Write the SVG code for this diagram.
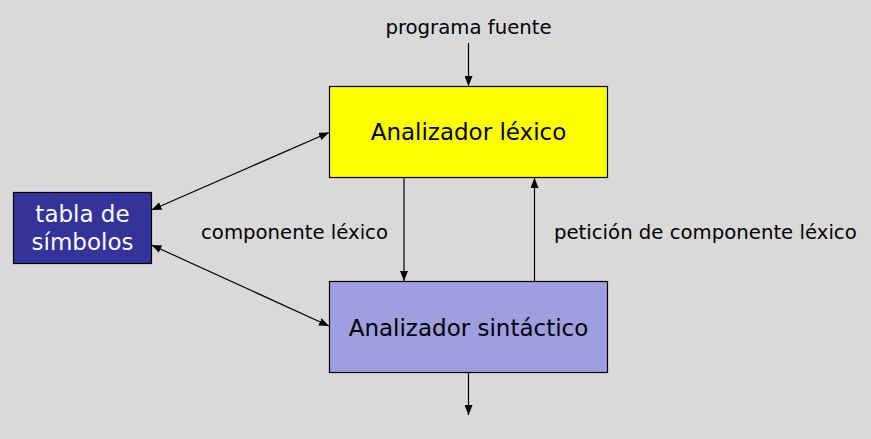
<svg xmlns="http://www.w3.org/2000/svg" width="871" height="439" viewBox="0 0 871 439">
<defs>
<style>
.box{stroke:#000;stroke-width:1.2}
.big{font-family:"DejaVu Sans",sans-serif;font-size:23px;text-anchor:middle}
.lbl{font-family:"DejaVu Sans",sans-serif;font-size:19.7px;fill:#000}
.con{stroke:#000;stroke-width:1.2;fill:none}
</style>
<marker id="ah" viewBox="0 0 10 8" refX="10" refY="4" markerWidth="10" markerHeight="8" markerUnits="userSpaceOnUse" orient="auto-start-reverse">
<path d="M0,0 L10,4 L0,8 z" fill="#000"/>
</marker>
</defs>
<rect width="871" height="439" fill="#d9d9d9"/>
<g id="lexico">
<rect class="box" x="329.5" y="86.5" width="278" height="91" fill="#ffff00"/>
<text class="big" x="468.5" y="140" fill="#000">Analizador léxico</text>
</g>
<g id="sintactico">
<rect class="box" x="329.5" y="281.5" width="278" height="91" fill="#9e9ee0"/>
<text class="big" x="468.5" y="336" fill="#000">Analizador sintáctico</text>
</g>
<g id="tabla">
<rect class="box" x="13.5" y="192.5" width="138" height="71" fill="#333399"/>
<text class="big" x="82.5" y="222" fill="#fff">tabla de</text>
<text class="big" x="82.5" y="250" fill="#fff">símbolos</text>
</g>
<g id="labels">
<text class="lbl" x="468.5" y="33.5" text-anchor="middle">programa fuente</text>
<text class="lbl" x="388" y="238.5" text-anchor="end">componente léxico</text>
<text class="lbl" x="554" y="238.5">petición de componente léxico</text>
</g>
<g id="connectors">
<line class="con" x1="468.5" y1="43" x2="468.5" y2="86" marker-end="url(#ah)"/>
<line class="con" x1="404" y1="178" x2="404" y2="281" marker-end="url(#ah)"/>
<line class="con" x1="534.5" y1="281" x2="534.5" y2="178" marker-end="url(#ah)"/>
<line class="con" x1="468.5" y1="373" x2="468.5" y2="415" marker-end="url(#ah)"/>
<line class="con" x1="151.5" y1="210" x2="329" y2="132.5" marker-start="url(#ah)" marker-end="url(#ah)"/>
<line class="con" x1="151.5" y1="245" x2="329" y2="326" marker-start="url(#ah)" marker-end="url(#ah)"/>
</g>
</svg>
